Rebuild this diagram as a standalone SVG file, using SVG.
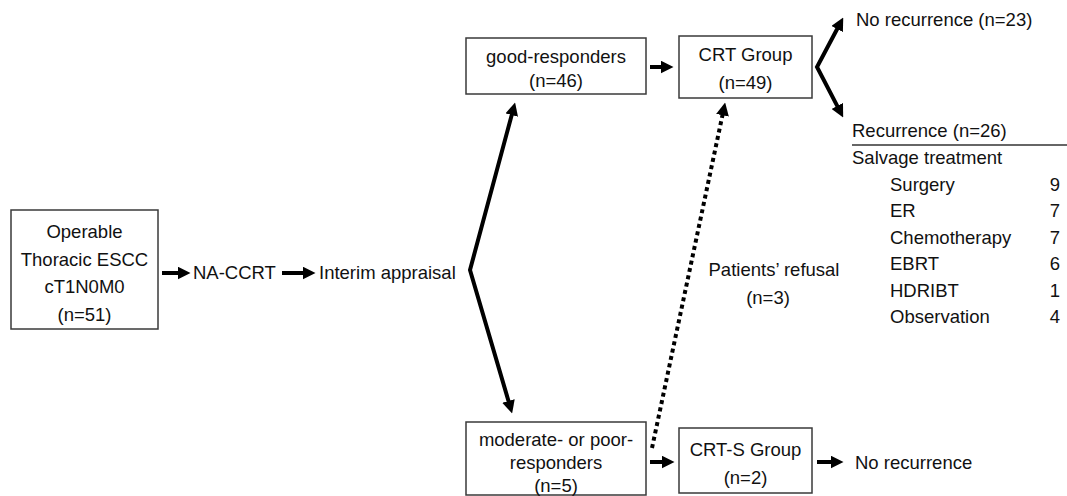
<svg xmlns="http://www.w3.org/2000/svg" width="1067" height="496" viewBox="0 0 1067 496">
<style>
.box{fill:#fff;stroke:#3a3a3a;stroke-width:1.5}
text{font-family:"Liberation Sans",Arial,sans-serif;font-size:18.5px;fill:#111}
.c{text-anchor:middle}
.r{text-anchor:end}
.arr{fill:none;stroke:#000;stroke-width:4;marker-end:url(#ah)}
.dot{fill:none;stroke:#000;stroke-width:4;stroke-dasharray:4 3.5;marker-end:url(#ah)}
</style>
<defs>
<marker id="ah" markerUnits="userSpaceOnUse" markerWidth="13" markerHeight="13" refX="6" refY="6" orient="auto-start-reverse" viewBox="0 0 12 12">
<path d="M0,0 L12,6 L0,12 z" fill="#000"/>
</marker>
</defs>
<rect width="1067" height="496" fill="#fff"/>
<g id="n-operable">
<rect class="box" x="11" y="210" width="147" height="119"/>
<text class="c" x="84.5" y="238">Operable</text>
<text class="c" x="84.5" y="266">Thoracic ESCC</text>
<text class="c" x="84.5" y="293">cT1N0M0</text>
<text class="c" x="84.5" y="321">(n=51)</text>
</g>
<g id="n-naccrt"><text x="193" y="279">NA-CCRT</text></g>
<g id="n-interim"><text x="319" y="279">Interim appraisal</text></g>
<g id="n-good">
<rect class="box" x="466" y="38" width="180" height="56"/>
<text class="c" x="556" y="63">good-responders</text>
<text class="c" x="556" y="87">(n=46)</text>
</g>
<g id="n-crt">
<rect class="box" x="679" y="36" width="133" height="62"/>
<text class="c" x="745.5" y="61">CRT Group</text>
<text class="c" x="745.5" y="89">(n=49)</text>
</g>
<g id="n-norec23"><text x="856" y="26">No recurrence (n=23)</text></g>
<g id="n-rec26">
<text x="852" y="137">Recurrence (n=26)</text>
<line x1="852" y1="145" x2="1067" y2="145" stroke="#333" stroke-width="1.3"/>
<text x="852" y="164">Salvage treatment</text>
<text x="890" y="191">Surgery</text><text class="r" x="1060" y="191">9</text>
<text x="890" y="217">ER</text><text class="r" x="1060" y="217">7</text>
<text x="890" y="244">Chemotherapy</text><text class="r" x="1060" y="244">7</text>
<text x="890" y="270">EBRT</text><text class="r" x="1060" y="270">6</text>
<text x="890" y="297">HDRIBT</text><text class="r" x="1060" y="297">1</text>
<text x="890" y="323">Observation</text><text class="r" x="1060" y="323">4</text>
</g>
<g id="n-refusal">
<text class="c" x="774" y="276">Patients’ refusal</text>
<text class="c" x="768" y="304">(n=3)</text>
</g>
<g id="n-mod">
<rect class="box" x="466" y="422" width="180" height="73"/>
<text class="c" x="556" y="446">moderate- or poor-</text>
<text class="c" x="556" y="469">responders</text>
<text class="c" x="556" y="492">(n=5)</text>
</g>
<g id="n-crts">
<rect class="box" x="679" y="428" width="133" height="65"/>
<text class="c" x="745.5" y="456">CRT-S Group</text>
<text class="c" x="745.5" y="484">(n=2)</text>
</g>
<g id="n-norec"><text x="855" y="469">No recurrence</text></g>
<g id="connectors">
<line class="arr" x1="162" y1="273" x2="184" y2="273"/>
<line class="arr" x1="282" y1="273" x2="309" y2="273"/>
<path class="arr" d="M513.4,108.8 L470,270 L510.3,407.2" style="marker-start:url(#ah)"/>
<line class="arr" x1="650" y1="67" x2="667" y2="67"/>
<path class="arr" d="M840.2,23.3 L817,67 L840.2,111.7" style="marker-start:url(#ah)"/>
<line class="dot" x1="652" y1="448" x2="723.8" y2="108.9"/>
<line class="arr" x1="650" y1="462" x2="668" y2="462"/>
<line class="arr" x1="817" y1="462" x2="837" y2="462"/>
</g>
</svg>
